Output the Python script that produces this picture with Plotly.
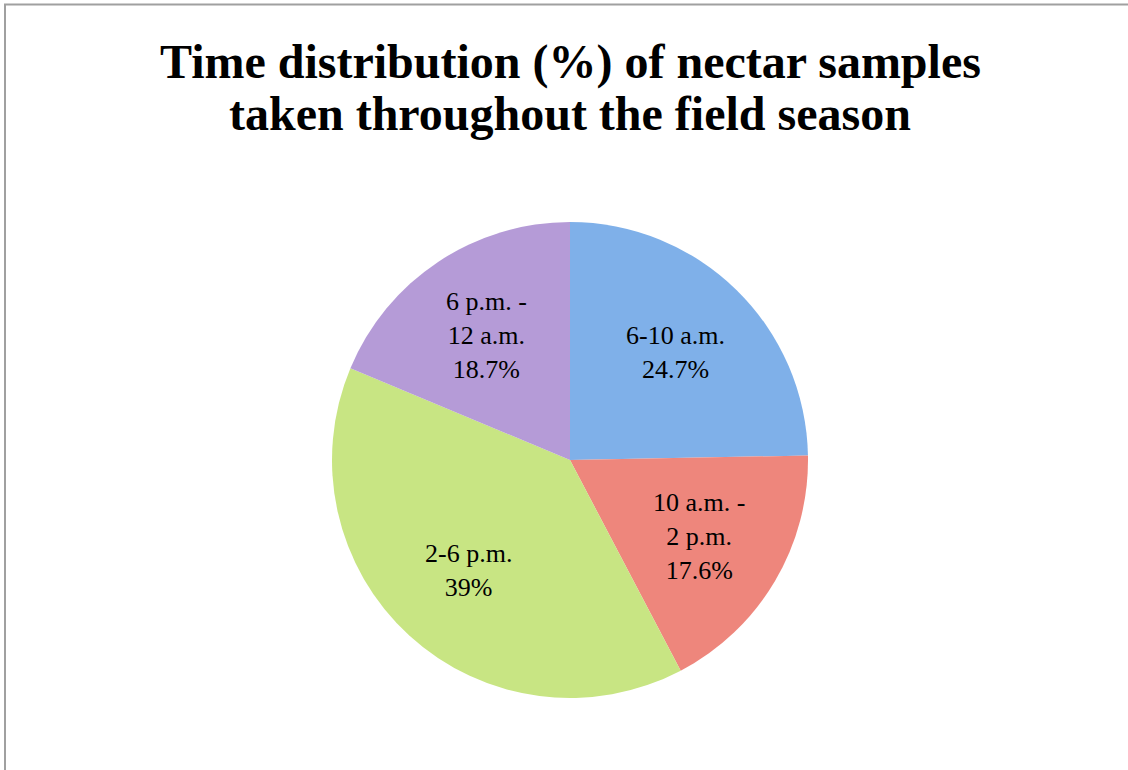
import math
import plotly.graph_objects as go

# Share of nectar samples per time-of-day window
periods = ["6-10 a.m.", "10 a.m. -<br>2 p.m.", "2-6 p.m.", "6 p.m. -<br>12 a.m."]
shares = [24.7, 17.6, 39.0, 18.7]
share_labels = ["24.7%", "17.6%", "39%", "18.7%"]
slice_colors = ["#7fb0e9", "#ee867c", "#c8e583", "#b59bd7"]

title_lines = ["Time distribution (%) of nectar samples", "taken throughout the field season"]

W, H = 1128, 770
cx, cy, r = 570, 460, 238  # pie centre and radius in pixels

serif = "Liberation Serif, Times New Roman, serif"

fig = go.Figure(
    go.Pie(
        values=shares,
        labels=[p.replace("<br>", " ") for p in periods],
        sort=False,
        direction="clockwise",
        rotation=0,
        textinfo="none",
        marker=dict(colors=slice_colors, line=dict(width=0)),
        domain=dict(x=[(cx - r) / W, (cx + r) / W], y=[1 - (cy + r) / H, 1 - (cy - r) / H]),
        showlegend=False,
        hoverinfo="label+value",
    )
)

# Slice labels placed along each slice's bisector
total = sum(shares)
start = 0.0
annotations = []
for name, val, lab in zip(periods, shares, share_labels):
    mid = (start + val / 2) / total * 2 * math.pi
    start += val
    k = 0.63
    px = cx + k * r * math.sin(mid)
    py = cy - k * r * math.cos(mid)
    annotations.append(
        dict(
            x=px / W, y=1 - py / H, xref="paper", yref="paper",
            text=f"{name}<br>{lab}", showarrow=False,
            font=dict(family=serif, size=26, color="#000000"),
            align="center", xanchor="center", yanchor="middle",
        )
    )

# Two-line bold title, lines set tighter than the default line height
for line, ypx in zip(title_lines, [62, 114]):
    annotations.append(
        dict(
            x=570 / W, y=1 - ypx / H, xref="paper", yref="paper",
            text=f"<b>{line}</b>", showarrow=False,
            font=dict(family=serif, size=48, color="#000000"),
            xanchor="center", yanchor="middle",
        )
    )

fig.update_layout(
    width=W, height=H,
    margin=dict(l=0, r=0, t=0, b=0),
    paper_bgcolor="white", plot_bgcolor="white",
    annotations=annotations,
    shapes=[
        dict(type="rect", xref="paper", yref="paper",
             x0=5 / W, x1=1.01, y0=-0.01, y1=1 - 4.5 / H,
             line=dict(color="#a0a0a0", width=2), fillcolor="rgba(0,0,0,0)", layer="below")
    ],
)

fig.write_html("out.html")
